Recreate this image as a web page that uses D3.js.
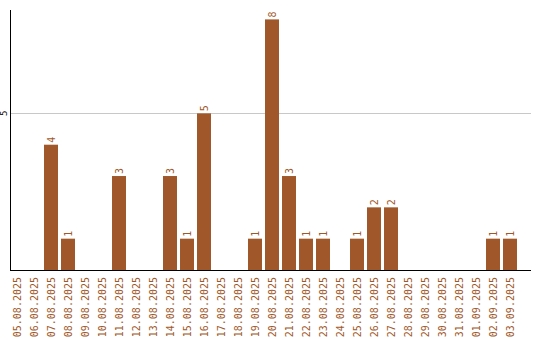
<!DOCTYPE html>
<html>
<head>
<meta charset="utf-8">
<script src="https://cdn.jsdelivr.net/npm/d3@7"></script>
<style>
  body { margin: 0; background: #fff; }
  svg text { font-family: "DejaVu Sans Mono", monospace; font-size: 10px; }
</style>
</head>
<body>
<svg id="chart" width="540" height="340"></svg>
<script>
// daily counts, 05.08.2025 – 03.09.2025
const dates = [
  "05.08.2025", "06.08.2025", "07.08.2025", "08.08.2025", "09.08.2025",
  "10.08.2025", "11.08.2025", "12.08.2025", "13.08.2025", "14.08.2025",
  "15.08.2025", "16.08.2025", "17.08.2025", "18.08.2025", "19.08.2025",
  "20.08.2025", "21.08.2025", "22.08.2025", "23.08.2025", "24.08.2025",
  "25.08.2025", "26.08.2025", "27.08.2025", "28.08.2025", "29.08.2025",
  "30.08.2025", "31.08.2025", "01.09.2025", "02.09.2025", "03.09.2025"
];
const counts = [
  0, 0, 4, 1, 0,
  0, 3, 0, 0, 3,
  1, 5, 0, 0, 1,
  8, 3, 1, 1, 0,
  1, 2, 2, 0, 0,
  0, 0, 0, 1, 1
];
const yTicks = [5];

const barColor = "#a0582a";
const svg = d3.select("#chart");

const mLeft = 10, mRight = 531, mTop = 10, mBottom = 270;

const x = d3.scaleBand()
    .domain(dates)
    .range([mLeft, 517])
    .paddingInner(3 / 17)
    .paddingOuter(0);

const y = d3.scaleLinear()
    .domain([0, 8.3])
    .range([mBottom, mTop]);

// gridlines
svg.selectAll("line.grid")
    .data(yTicks)
    .enter().append("line")
    .attr("class", "grid")
    .attr("x1", mLeft).attr("x2", mRight)
    .attr("y1", d => Math.round(y(d)) + 0.5)
    .attr("y2", d => Math.round(y(d)) + 0.5)
    .attr("stroke", "#c8c8c8");

// bars
svg.selectAll("rect.bar")
    .data(dates)
    .enter().append("rect")
    .attr("class", "bar")
    .attr("x", d => x(d))
    .attr("width", x.bandwidth())
    .attr("y", (d, i) => y(counts[i]))
    .attr("height", (d, i) => mBottom - y(counts[i]))
    .attr("fill", barColor);

// value labels (rotated)
svg.selectAll("text.val")
    .data(dates.filter((d, i) => counts[i] > 0))
    .enter().append("text")
    .attr("class", "val")
    .attr("transform", d => {
        const v = counts[dates.indexOf(d)];
        return `translate(${x(d) + x.bandwidth() / 2}, ${y(v) - 2}) rotate(-90)`;
    })
    .attr("dy", "0.35em")
    .attr("text-anchor", "start")
    .attr("fill", barColor)
    .text(d => counts[dates.indexOf(d)]);

// axes
svg.append("line")
    .attr("x1", mLeft + 0.5).attr("x2", mLeft + 0.5)
    .attr("y1", mTop).attr("y2", mBottom + 1)
    .attr("stroke", "#000");
svg.append("line")
    .attr("x1", mLeft).attr("x2", mRight)
    .attr("y1", mBottom + 0.5).attr("y2", mBottom + 0.5)
    .attr("stroke", "#000");

// y tick labels
svg.selectAll("text.ytick")
    .data(yTicks)
    .enter().append("text")
    .attr("class", "ytick")
    .attr("transform", d => `translate(4, ${y(d)}) rotate(-90)`)
    .attr("dy", "0.35em")
    .attr("text-anchor", "middle")
    .attr("fill", "#000")
    .style("font-size", "9px")
    .text(d => d);

// x tick labels
svg.selectAll("text.xtick")
    .data(dates)
    .enter().append("text")
    .attr("class", "xtick")
    .attr("transform", d => `translate(${x(d) + x.bandwidth() / 2}, 277) rotate(-90)`)
    .attr("dy", "0.35em")
    .attr("text-anchor", "end")
    .attr("fill", barColor)
    .text(d => d);
</script>
</body>
</html>
